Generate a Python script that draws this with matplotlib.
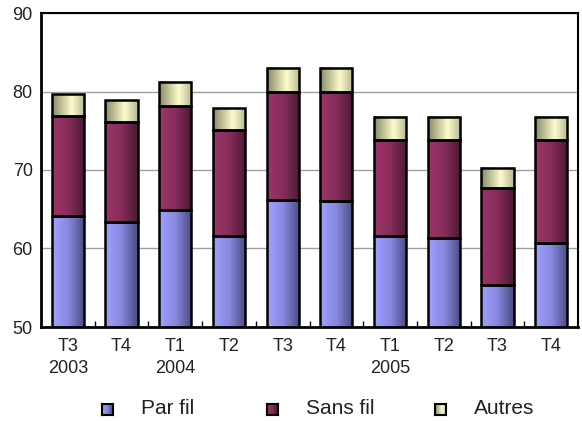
import numpy as np
import matplotlib
matplotlib.use('Agg')
import matplotlib.pyplot as plt
from matplotlib.colors import LinearSegmentedColormap

plt.rcParams['font.family'] = ['Liberation Sans', 'DejaVu Sans']

# données
periodes = ['T3\n2003', 'T4', 'T1\n2004', 'T2', 'T3', 'T4', 'T1\n2005', 'T2', 'T3', 'T4']
par_fil = [64.2, 63.4, 64.9, 61.6, 66.2, 66.0, 61.6, 61.4, 55.3, 60.7]
sans_fil = [12.7, 12.7, 13.2, 13.5, 13.7, 13.9, 12.2, 12.4, 12.4, 13.1]
autres = [2.8, 2.8, 3.1, 2.8, 3.1, 3.1, 3.0, 3.0, 2.6, 3.0]
series = ['Par fil', 'Sans fil', 'Autres']

# dégradés horizontaux (clair à gauche, foncé à droite)
cmaps = [
    LinearSegmentedColormap.from_list('pf', ['#a0a0ff', '#8888e0', '#4b4b80']),
    LinearSegmentedColormap.from_list('sf', ['#9c3468', '#872d5b', '#4a1a33']),
    LinearSegmentedColormap.from_list('au', [(0, '#8a8a6a'), (0.6, '#fcfcca'), (1, '#b8b894')]),
]
grad = np.linspace(0, 1, 64).reshape(1, -1)

fig = plt.figure(figsize=(5.82, 4.21), dpi=100)
ax = fig.add_axes([41/582, 1-327/421, 537/582, 314/421])

ymin = 50
x = np.arange(len(periodes)) + 0.5
w = 0.6
bas = np.zeros(len(periodes))
for vals, cm in zip([par_fil, sans_fil, autres], cmaps):
    vals = np.array(vals)
    for xi, b, v in zip(x, bas, vals):
        ax.imshow(grad, cmap=cm, extent=[xi-w/2, xi+w/2, max(b, ymin), b+v],
                  aspect='auto', zorder=2)
    ax.bar(x, vals, w, bottom=bas, fill=False, edgecolor='black', linewidth=1.8, zorder=3)
    bas = bas + vals

ax.set_xlim(0, len(periodes))
ax.set_ylim(ymin, 90)
ax.set_aspect('auto')
ax.set_yticks([50, 60, 70, 80, 90])
ax.yaxis.grid(True, color='#a0a0a0', linewidth=1)
ax.set_axisbelow(True)
ax.tick_params(axis='y', length=0, pad=6, labelsize=13, labelcolor='#222222')
ax.set_xticks(x)
ax.set_xticklabels(periodes, fontsize=13, linespacing=1.35, color='#222222')
ax.tick_params(axis='x', length=0, pad=8)
ax.set_xticks(np.arange(1, len(periodes)), minor=True)
ax.tick_params(axis='x', which='minor', direction='in', length=4, width=1)
for s in ['left', 'bottom']:
    ax.spines[s].set_linewidth(2)
for s in ['top', 'right']:
    ax.spines[s].set_linewidth(1.5)

# légende manuelle avec petits carrés en dégradé
leg_x = [102, 267, 435]
for lx, nom, cm in zip(leg_x, series, cmaps):
    la = fig.add_axes([lx/582, 1-415/421, 11/582, 11/421])
    la.imshow(grad, cmap=cm, aspect='auto')
    la.set_xticks([])
    la.set_yticks([])
    for s in la.spines.values():
        s.set_linewidth(1.5)
    fig.text((lx+39)/582, 1-409/421, nom, fontsize=15, va='center', ha='left', color='#222222')

fig.savefig('out.png', dpi=100)
